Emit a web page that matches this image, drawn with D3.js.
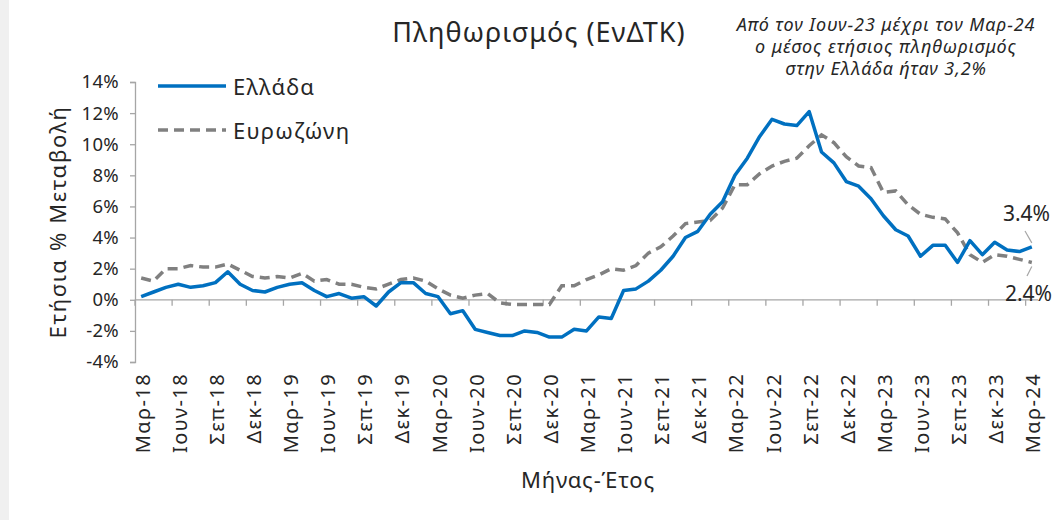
<!DOCTYPE html>
<html>
<head>
<meta charset="utf-8">
<script src="https://cdn.jsdelivr.net/npm/d3@7"></script>
<style>
  body { margin: 0; background: #fff; }
  svg text { font-family: "Noto Sans", "DejaVu Sans", sans-serif; fill: #262626; }
</style>
</head>
<body>
<div id="chart"></div>
<script>
// Monthly annual % change, Mar-18 .. Mar-24
var greece = [0.2, 0.5, 0.8, 1.0, 0.8, 0.9, 1.1, 1.8, 1.0, 0.6,
    0.5, 0.8, 1.0, 1.1, 0.6, 0.2, 0.4, 0.1, 0.2, -0.4, 0.5, 1.1,
    1.1, 0.4, 0.2, -0.9, -0.7, -1.9, -2.1, -2.3, -2.3, -2.0, -2.1, -2.4,
    -2.4, -1.9, -2.0, -1.1, -1.2, 0.6, 0.7, 1.2, 1.9, 2.8, 4.0, 4.4,
    5.5, 6.3, 8.0, 9.1, 10.5, 11.6, 11.3, 11.2, 12.1, 9.5, 8.8, 7.6,
    7.3, 6.5, 5.4, 4.5, 4.1, 2.8, 3.5, 3.5, 2.4, 3.8, 2.9, 3.7,
    3.2, 3.1, 3.4];
var eurozone = [1.4, 1.2, 2.0, 2.0, 2.2, 2.1, 2.1, 2.3, 1.9, 1.5,
    1.4, 1.5, 1.4, 1.7, 1.2, 1.3, 1.0, 1.0, 0.8, 0.7, 1.0, 1.3,
    1.4, 1.2, 0.7, 0.3, 0.1, 0.3, 0.4, -0.2, -0.3, -0.3, -0.3, -0.3,
    0.9, 0.9, 1.3, 1.6, 2.0, 1.9, 2.2, 3.0, 3.4, 4.1, 4.9, 5.0,
    5.1, 5.9, 7.4, 7.4, 8.1, 8.6, 8.9, 9.1, 9.9, 10.6, 10.1, 9.2,
    8.6, 8.5, 6.9, 7.0, 6.1, 5.5, 5.3, 5.2, 4.3, 2.9, 2.4, 2.9,
    2.8, 2.6, 2.4];
var tickLabels = ["Μαρ-18", "Ιουν-18", "Σεπ-18", "Δεκ-18", "Μαρ-19", "Ιουν-19", "Σεπ-19", "Δεκ-19",
    "Μαρ-20", "Ιουν-20", "Σεπ-20", "Δεκ-20", "Μαρ-21", "Ιουν-21", "Σεπ-21", "Δεκ-21",
    "Μαρ-22", "Ιουν-22", "Σεπ-22", "Δεκ-22", "Μαρ-23", "Ιουν-23", "Σεπ-23", "Δεκ-23", "Μαρ-24"];
var yTicks = [-4, -2, 0, 2, 4, 6, 8, 10, 12, 14];
var seriesNames = ["Ελλάδα", "Ευρωζώνη"];

var W = 1056, H = 520;
var svg = d3.select("#chart").append("svg")
    .attr("width", W)
    .attr("height", H);

// grey strip on the left edge
svg.append("rect").attr("x", 0).attr("y", 0).attr("width", 9).attr("height", H).attr("fill", "#f0f0f0");

var idx = d3.range(greece.length);
var x = d3.scaleBand().domain(idx).range([135, 1038]).paddingInner(0).paddingOuter(0);
var y = d3.scaleLinear().domain([-4, 14]).range([362, 82]);
var cx = function(i) { return x(i) + x.bandwidth() / 2; };

var axisColor = "#a6a6a6";

// y axis
var yAxis = svg.append("g")
    .attr("transform", "translate(135,0)")
    .call(d3.axisLeft(y).tickValues(yTicks).tickSize(5).tickFormat(function(d) { return d + "%"; }));
yAxis.selectAll("path, line").attr("stroke", axisColor).attr("stroke-width", 1.3);
yAxis.selectAll("text").attr("font-size", 18.5).attr("x", -16).attr("fill", "#262626")
    .attr("letter-spacing", 0.3);

// x axis on zero line, ticks between categories
svg.append("line")
    .attr("x1", 135).attr("x2", 1038)
    .attr("y1", y(0)).attr("y2", y(0))
    .attr("stroke", axisColor).attr("stroke-width", 1.3);
svg.append("g").selectAll("line")
    .data(d3.range(0, greece.length, 3))
    .enter().append("line")
    .attr("x1", function(d) { return x(d); })
    .attr("x2", function(d) { return x(d); })
    .attr("y1", y(0)).attr("y2", y(0) + 6)
    .attr("stroke", axisColor).attr("stroke-width", 1.3);

// x tick labels (at bottom of plot)
svg.append("g").selectAll("text")
    .data(tickLabels)
    .enter().append("text")
    .attr("transform", function(d, k) { return "translate(" + (cx(k * 3) + 1) + ",373) rotate(-90)"; })
    .attr("text-anchor", "end")
    .attr("dominant-baseline", "central")
    .attr("font-size", 20)
    .attr("letter-spacing", 1.4)
    .text(function(d) { return d; });

// lines
var line = function(vals) {
    return d3.line().x(function(d, i) { return cx(i); }).y(function(d) { return y(d); })(vals);
};
svg.append("path").attr("d", line(eurozone))
    .attr("fill", "none").attr("stroke", "#808080").attr("stroke-width", 3.5)
    .attr("stroke-dasharray", "10,6");
svg.append("path").attr("d", line(greece))
    .attr("fill", "none").attr("stroke", "#0070c0").attr("stroke-width", 3.5)
    .attr("stroke-linejoin", "round");

// legend
svg.append("line").attr("x1", 158).attr("x2", 226).attr("y1", 86).attr("y2", 86)
    .attr("stroke", "#0070c0").attr("stroke-width", 3.5);
svg.append("text").attr("x", 233).attr("y", 86).attr("dominant-baseline", "central")
    .attr("font-size", 22).attr("letter-spacing", 1.2).text(seriesNames[0]);
svg.append("line").attr("x1", 158).attr("x2", 226).attr("y1", 130).attr("y2", 130)
    .attr("stroke", "#808080").attr("stroke-width", 3.5).attr("stroke-dasharray", "10,6");
svg.append("text").attr("x", 233).attr("y", 130).attr("dominant-baseline", "central")
    .attr("font-size", 22).attr("letter-spacing", 1.2).text(seriesNames[1]);

// end labels with leader lines
var last = greece.length - 1;
svg.append("text").attr("x", 1050).attr("y", 221).attr("text-anchor", "end")
    .attr("font-size", 21).text(d3.format(".1f")(greece[last]) + "%");
svg.append("line").attr("x1", 1025).attr("y1", 231).attr("x2", cx(last)).attr("y2", y(greece[last]) - 4)
    .attr("stroke", "#a6a6a6").attr("stroke-width", 1.2);
svg.append("text").attr("x", 1052).attr("y", 301).attr("text-anchor", "end")
    .attr("font-size", 21).text(d3.format(".1f")(eurozone[last]) + "%");
svg.append("line").attr("x1", 1027).attr("y1", 276).attr("x2", cx(last)).attr("y2", y(eurozone[last]) + 4)
    .attr("stroke", "#a6a6a6").attr("stroke-width", 1.2);

// titles
svg.append("text").attr("x", 539).attr("y", 42).attr("text-anchor", "middle")
    .attr("font-size", 27).attr("letter-spacing", 1).text("Πληθωρισμός (ΕνΔΤΚ)");

var note = ["Από τον Ιουν-23 μέχρι τον Μαρ-24", "ο μέσος ετήσιος πληθωρισμός", "στην Ελλάδα ήταν 3,2%"];
svg.append("g").selectAll("text")
    .data(note)
    .enter().append("text")
    .attr("x", 886).attr("y", function(d, i) { return 31 + i * 22; })
    .attr("text-anchor", "middle").attr("font-style", "italic").attr("font-size", 18)
    .attr("letter-spacing", 0.9)
    .text(function(d) { return d; });

svg.append("text")
    .attr("transform", "translate(66,222) rotate(-90)")
    .attr("text-anchor", "middle")
    .attr("font-size", 22)
    .attr("letter-spacing", 1.6)
    .text("Ετήσια % Μεταβολή");

svg.append("text").attr("x", 588).attr("y", 488).attr("text-anchor", "middle")
    .attr("font-size", 22).attr("letter-spacing", 0.8).text("Μήνας-Έτος");
</script>
</body>
</html>
